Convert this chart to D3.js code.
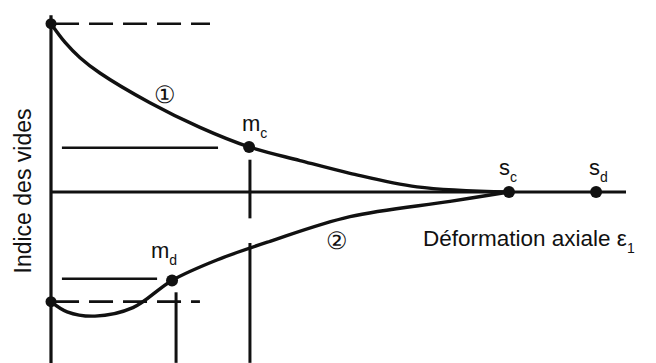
<!DOCTYPE html>
<html>
<head>
<meta charset="utf-8">
<script src="https://cdn.jsdelivr.net/npm/d3@7"></script>
<style>
  html, body { margin: 0; padding: 0; background: #fff; }
  svg { display: block; }
  text { font-family: "Liberation Sans", Arial, sans-serif; fill: #111; }
</style>
</head>
<body>
<svg id="chart" width="656" height="363"></svg>
<script>
// ---- Data (axial strain eps1 in %, void index e) ----
const looseEps = [0, 0.49, 1.01, 1.70, 3.44, 5.18, 6.89, 8.66, 10.40, 12.73, 15.93];
const looseE   = [0.948, 0.926, 0.908, 0.890, 0.855, 0.826, 0.803, 0.787, 0.772, 0.756, 0.750];
const denseEps = [0, 0.56, 1.53, 2.85, 4.21, 5.77, 7.62, 10.40, 13.88, 15.93];
const denseE   = [0.621, 0.609, 0.604, 0.614, 0.646, 0.670, 0.692, 0.721, 0.739, 0.750];

const pointNames = ["mc", "md", "sc", "sd"];
const pointEps   = [6.89, 4.21, 15.93, 18.96];
const pointE     = [0.803, 0.646, 0.750, 0.750];

const eCrit = 0.750;      // level of horizontal axis
const epsMax = 20;

// reference lines
const dashedLevels = [0.948, 0.621];
const dashedFrom   = [0.14, 0.14];
const dashedTo     = [5.53, 5.18];
const solidLevels  = [0.802, 0.648];
const solidFrom    = [0.38, 0.38];
const solidTo      = [5.81, 3.69];
const vertEps      = [6.92, 6.92, 4.35];
const vertTop      = [0.788, 0.690, 0.632];
const vertBottom   = [0.719, 0.549, 0.549];

// ---- Scales ----
const x = d3.scaleLinear().domain([0, epsMax]).range([51, 626]);
const y = d3.scaleLinear().domain([0.75, 0.95]).range([192, 22]);

const svg = d3.select("#chart");
const ink = "#111";

// axes
svg.append("line").attr("x1", x(0)).attr("x2", x(0))
  .attr("y1", y(0.958)).attr("y2", 363)
  .attr("stroke", ink).attr("stroke-width", 3.2);
svg.append("line").attr("x1", x(0)).attr("x2", x(epsMax))
  .attr("y1", y(eCrit)).attr("y2", y(eCrit))
  .attr("stroke", ink).attr("stroke-width", 3);

// dashed lines
dashedLevels.forEach((lv, i) => {
  svg.append("line").attr("x1", x(dashedFrom[i])).attr("x2", x(dashedTo[i]))
    .attr("y1", y(lv)).attr("y2", y(lv))
    .attr("stroke", ink).attr("stroke-width", 2.6)
    .attr("stroke-dasharray", "24,10");
});
// solid short horizontal lines
solidLevels.forEach((lv, i) => {
  svg.append("line").attr("x1", x(solidFrom[i])).attr("x2", x(solidTo[i]))
    .attr("y1", y(lv)).attr("y2", y(lv))
    .attr("stroke", ink).attr("stroke-width", 2.4);
});
// vertical lines
vertEps.forEach((v, i) => {
  svg.append("line").attr("x1", x(v)).attr("x2", x(v))
    .attr("y1", y(vertTop[i])).attr("y2", y(vertBottom[i]))
    .attr("stroke", ink).attr("stroke-width", 3);
});

// curves
const line = d3.line().x(d => x(d[0])).y(d => y(d[1])).curve(d3.curveCatmullRom.alpha(0.5));
svg.append("path").attr("d", line(d3.zip(looseEps, looseE)))
  .attr("fill", "none").attr("stroke", ink).attr("stroke-width", 3.4);
svg.append("path").attr("d", line(d3.zip(denseEps, denseE)))
  .attr("fill", "none").attr("stroke", ink).attr("stroke-width", 3.4);

// start points on vertical axis
[looseE[0], denseE[0]].forEach(e => {
  svg.append("circle").attr("cx", x(0)).attr("cy", y(e)).attr("r", 5.5).attr("fill", ink);
});
// named points
pointNames.forEach((n, i) => {
  svg.append("circle").attr("cx", x(pointEps[i])).attr("cy", y(pointE[i])).attr("r", 6).attr("fill", ink);
});

// point labels
function subLabel(px, py, main, sub) {
  const t = svg.append("text").attr("x", px).attr("y", py).attr("font-size", 22);
  t.append("tspan").text(main);
  t.append("tspan").attr("font-size", 14).attr("dy", 7).text(sub);
}
subLabel(242, 131, "m", "c");
subLabel(151, 258, "m", "d");
subLabel(499, 175, "s", "c");
subLabel(589, 175, "s", "d");

// curve numbers
svg.append("text").attr("x", 165).attr("y", 94).attr("text-anchor", "middle")
  .attr("dominant-baseline", "central")
  .attr("font-size", 24).attr("font-family", "DejaVu Sans").text("\u2460");
svg.append("text").attr("x", 337).attr("y", 240).attr("text-anchor", "middle")
  .attr("dominant-baseline", "central")
  .attr("font-size", 24).attr("font-family", "DejaVu Sans").text("\u2461");

// axis titles
const xt = svg.append("text").attr("x", 423).attr("y", 246).attr("font-size", 22.5);
xt.append("tspan").text("Déformation axiale ε");
xt.append("tspan").attr("font-size", 14).attr("dy", 7).text("1");

svg.append("text").attr("transform", "translate(31,191) rotate(-90)")
  .attr("text-anchor", "middle").attr("font-size", 23).text("Indice des vides");
</script>
</body>
</html>
